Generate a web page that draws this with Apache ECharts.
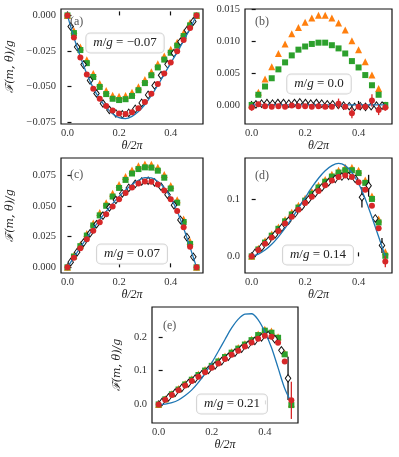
<!DOCTYPE html>
<html>
<head>
<meta charset="utf-8">
<script src="https://cdn.jsdelivr.net/npm/echarts@6/dist/echarts.min.js"></script>
<style>
html, body { margin: 0; padding: 0; background: #fff; }
#main { width: 399px; height: 457px; }
</style>
</head>
<body>
<div id="main"></div>
<script>
// theta/2pi grid for circles, squares, triangles and the exact curve
const thetaX = [0, 0.025, 0.05, 0.075, 0.1, 0.125, 0.15, 0.175, 0.2, 0.225, 0.25,
  0.275, 0.3, 0.325, 0.35, 0.375, 0.4, 0.425, 0.45, 0.475, 0.5]
// grid of the open diamonds
const thetaMid = [0.0125, 0.0375, 0.0625, 0.0875, 0.1125, 0.1375, 0.1625, 0.1875, 0.2125, 0.2375,
  0.2625, 0.2875, 0.3125, 0.3375, 0.3625, 0.3875, 0.4125, 0.4375, 0.4625, 0.4875]
const thetaMidB = [0.016, 0.037, 0.057, 0.078, 0.098, 0.119, 0.139, 0.16, 0.18, 0.201, 0.221, 0.242,
  0.262, 0.283, 0.303, 0.324, 0.344, 0.365, 0.385, 0.406, 0.426, 0.447, 0.467, 0.488]

const xTicks = [0, 0.2, 0.4]

// (a) m/g = -0.07
const blueA = [0, -0.0155, -0.029, -0.041, -0.051, -0.0585, -0.0645, -0.069, -0.0718, -0.0724, -0.0708,
  -0.0675, -0.0625, -0.0562, -0.049, -0.0412, -0.0335, -0.0258, -0.0178, -0.009, 0]
const redA = [0, -0.0155, -0.0295, -0.0415, -0.0515, -0.0585, -0.0635, -0.0668, -0.0688, -0.0692, -0.068,
  -0.0652, -0.0608, -0.055, -0.0482, -0.0408, -0.033, -0.0252, -0.0172, -0.0088, 0]
const greenA = [0, -0.0124, -0.0243, -0.0335, -0.0432, -0.0502, -0.0552, -0.0585, -0.0594, -0.0588, -0.0565,
  -0.0525, -0.0475, -0.042, -0.0365, -0.031, -0.0262, -0.0212, -0.0145, -0.007, 0]
const orangeA = [0, -0.0105, -0.0222, -0.0312, -0.0408, -0.0478, -0.0527, -0.056, -0.0568, -0.0562, -0.054,
  -0.05, -0.045, -0.0395, -0.034, -0.0285, -0.0238, -0.0188, -0.0122, -0.005, 0]
const diamA = [-0.0078, -0.0222, -0.0345, -0.0456, -0.0548, -0.0618, -0.0664, -0.0688, -0.0694, -0.0684,
  -0.0656, -0.0614, -0.0558, -0.0492, -0.042, -0.0343, -0.0265, -0.0185, -0.0104, -0.0042]
const yTicksA = [0, -0.025, -0.05, -0.075]

// (b) m/g = 0.0
const blueB = [0, 0, 0, 0, 0, 0, 0, 0, 0, 0, 0, 0, 0, 0, 0, 0, 0, 0, 0, 0, 0]
const redB = [-0.0004, 0.0001, -0.0002, -0.0003, -0.0002, -0.0003, -0.0001, -0.0002, -0.0002, -0.0003, -0.0002,
  -0.0003, -0.0003, 0.0002, -0.0003, -0.0013, -0.0003, -0.0003, 0.0007, -0.0008, -0.0004]
const redErrB = [0.0005, 0.0002, 0.0001, 0.0001, 0.0001, 0.0001, 0.0001, 0.0001, 0.0001, 0.0001, 0.0001,
  0.0002, 0.0002, 0.0008, 0.0002, 0.0008, 0.0002, 0.0002, 0.001, 0.0008, 0.0005]
const greenB = [0, 0.0016, 0.0029, 0.0042, 0.0056, 0.0067, 0.0078, 0.0087, 0.0092, 0.0096, 0.0098,
  0.0098, 0.0094, 0.0089, 0.0081, 0.0069, 0.0059, 0.0047, 0.0031, 0.0016, 0]
const orangeB = [0, 0.002, 0.0041, 0.006, 0.0081, 0.0096, 0.0112, 0.0122, 0.013, 0.0137, 0.0141,
  0.0141, 0.0137, 0.0129, 0.0118, 0.0101, 0.0087, 0.0068, 0.0047, 0.0026, 0]
const diamB = [0.0001, 0.0002, 0.0003, 0.0002, 0.0003, 0.0003, 0.0002, 0.0003, 0.0004, 0.0003, 0.0002, 0.0003,
  0.0002, 0.0001, 0.0001, 0, -0.0001, -0.0002, -0.0003, -0.0002, -0.0003, -0.0002, -0.0001, -0.0001]
const yTicksB = [0, 0.005, 0.01, 0.015]

// (c) m/g = 0.07
const blueC = [0, 0.0082, 0.0162, 0.024, 0.0315, 0.0386, 0.0454, 0.0518, 0.0576, 0.0628, 0.0672,
  0.0706, 0.0728, 0.0726, 0.0698, 0.0645, 0.0565, 0.0455, 0.0318, 0.0162, 0]
const redC = [0, 0.0078, 0.0155, 0.0228, 0.0298, 0.0366, 0.0432, 0.0495, 0.0552, 0.0604, 0.0648,
  0.0681, 0.0697, 0.0696, 0.0673, 0.0625, 0.0552, 0.0458, 0.0325, 0.0168, 0]
const greenC = [0, 0.0088, 0.0172, 0.0258, 0.034, 0.0422, 0.05, 0.0575, 0.0645, 0.071, 0.0762,
  0.0798, 0.0812, 0.081, 0.0785, 0.0728, 0.064, 0.0525, 0.0368, 0.019, 0]
const orangeC = [0, 0.0098, 0.0185, 0.0275, 0.036, 0.0445, 0.0525, 0.0602, 0.0672, 0.0738, 0.079,
  0.0826, 0.084, 0.0838, 0.0812, 0.0755, 0.0665, 0.0548, 0.0392, 0.0212, 0]
const diamC = [0.0042, 0.0123, 0.0201, 0.0277, 0.035, 0.042, 0.0486, 0.0547, 0.06, 0.0645,
  0.0678, 0.0697, 0.0703, 0.069, 0.0655, 0.059, 0.0505, 0.0385, 0.0245, 0.0085]
const yTicksC = [0, 0.025, 0.05, 0.075]

// (d) m/g = 0.14
const blueD = [0, 0.004, 0.011, 0.021, 0.034, 0.049, 0.066, 0.084, 0.102, 0.12, 0.136,
  0.149, 0.158, 0.162, 0.158, 0.146, 0.127, 0.1, 0.068, 0.034, 0]
const redD = [0, 0.011, 0.022, 0.033, 0.044, 0.057, 0.069, 0.081, 0.093, 0.104, 0.114,
  0.124, 0.132, 0.138, 0.141, 0.138, 0.129, 0.116, 0.088, 0.049, -0.009]
const redErrD = [0, 0, 0, 0, 0, 0, 0, 0, 0, 0, 0, 0, 0, 0, 0, 0, 0, 0, 0, 0.003, 0.01]
const greenD = [0, 0.012, 0.024, 0.036, 0.048, 0.061, 0.073, 0.085, 0.097, 0.109, 0.12,
  0.13, 0.139, 0.146, 0.15, 0.15, 0.145, 0.128, 0.1, 0.059, 0.001]
const orangeD = [0, 0.014, 0.027, 0.039, 0.051, 0.064, 0.077, 0.089, 0.101, 0.113, 0.124,
  0.134, 0.143, 0.15, 0.155, 0.155, 0.15, 0.133, 0.105, 0.065, 0.008]
const diamD = [0.006, 0.016, 0.027, 0.038, 0.05, 0.062, 0.075, 0.087, 0.099, 0.11,
  0.12, 0.129, 0.135, 0.139, 0.14, 0.135, 0.103, 0.123, 0.066, 0.019]
const diamErrD = [0, 0, 0, 0, 0, 0, 0, 0, 0, 0, 0, 0, 0, 0, 0, 0.004, 0.018, 0.019, 0.003, 0.013]
const yTicksD = [0, 0.1]

// (e) m/g = 0.21
const blueE = [0, 0.001, 0.005, 0.013, 0.026, 0.043, 0.065, 0.092, 0.123, 0.157, 0.192,
  0.226, 0.252, 0.267, 0.268, 0.25, 0.215, 0.168, 0.108, 0.047, 0.006]
const redE = [0, 0.014, 0.028, 0.042, 0.056, 0.069, 0.082, 0.095, 0.108, 0.121, 0.134,
  0.147, 0.159, 0.171, 0.183, 0.194, 0.203, 0.2, 0.182, 0.127, 0.012]
const redErrE = [0, 0, 0, 0, 0, 0, 0, 0, 0, 0, 0, 0, 0, 0, 0, 0, 0, 0, 0.003, 0.006, 0.055]
const greenE = [0, 0.015, 0.03, 0.044, 0.059, 0.073, 0.087, 0.1, 0.114, 0.127, 0.14,
  0.153, 0.165, 0.177, 0.19, 0.205, 0.218, 0.212, 0.197, 0.148, -0.002]
const orangeE = [0, 0.017, 0.032, 0.047, 0.062, 0.076, 0.09, 0.103, 0.117, 0.13, 0.143,
  0.156, 0.168, 0.18, 0.193, 0.208, 0.222, 0.217, 0.2, 0.152, 0.002]
const diamE = [0.007, 0.021, 0.035, 0.049, 0.063, 0.076, 0.089, 0.102, 0.115, 0.128,
  0.141, 0.153, 0.165, 0.177, 0.188, 0.198, 0.205, 0.193, 0.16, 0.077]
const diamErrE = [0, 0, 0, 0, 0, 0, 0, 0, 0, 0, 0, 0, 0, 0, 0, 0, 0, 0, 0.006, 0.064]
const yTicksE = [0, 0.1, 0.2]

const mgLabels = ['−0.07', '0.0', '0.07', '0.14', '0.21']

const BLUE = '#1f77b4'
const RED = '#d62728'
const GREEN = '#2ca02c'
const ORANGE = '#ff7f0e'
const SERIF = '"Liberation Serif", "DejaVu Serif", serif'

const panels = [
  { tag: '(a)', grid: { left: 61, top: 9, width: 142, height: 115 }, min: -0.0762, max: 0.0045, digits: 3,
    yTicks: yTicksA, nameGap: 45, blue: blueA, red: redA, green: greenA, orange: orangeA,
    dx: thetaMid, dy: diamA, tagPos: [70, 22], boxPos: [125, 43] },
  { tag: '(b)', grid: { left: 245, top: 9, width: 147, height: 115 }, min: -0.003, max: 0.0151, digits: 3,
    yTicks: yTicksB, nameGap: 0, blue: blueB, red: redB, redErr: redErrB, green: greenB, orange: orangeB,
    dx: thetaMidB, dy: diamB, tagPos: [255, 22], boxPos: [319, 84] },
  { tag: '(c)', grid: { left: 61, top: 158, width: 142, height: 115 }, min: -0.0046, max: 0.0888, digits: 3,
    yTicks: yTicksC, nameGap: 45, blue: blueC, red: redC, green: greenC, orange: orangeC,
    dx: thetaMid, dy: diamC, tagPos: [70, 175], boxPos: [132, 254] },
  { tag: '(d)', grid: { left: 245, top: 158, width: 147, height: 115 }, min: -0.029, max: 0.1713, digits: 1,
    yTicks: yTicksD, nameGap: 0, blue: blueD, red: redD, redErr: redErrD, green: greenD, orange: orangeD,
    dx: thetaMid, dy: diamD, dErr: diamErrD, tagPos: [255, 176], boxPos: [318, 255] },
  { tag: '(e)', grid: { left: 152, top: 307, width: 146, height: 116 }, min: -0.055, max: 0.288, digits: 1,
    yTicks: yTicksE, nameGap: 29, blue: blueE, red: redE, redErr: redErrE, green: greenE, orange: orangeE,
    dx: thetaMid, dy: diamE, dErr: diamErrE, tagPos: [163, 326], boxPos: [232, 404] }
]

const fmt = (v, d) => (v < -1e-9 ? '−' : '') + Math.abs(v).toFixed(d)
const pairs = (xs, ys) => xs.map((x, i) => [x, ys[i]])

function errorBars (idx, xs, ys, errs, color, z) {
  const data = xs.map((x, i) => [x, ys[i], errs[i]]).filter(d => d[2] > 0)
  return {
    type: 'custom',
    xAxisIndex: idx,
    yAxisIndex: idx,
    z: z,
    silent: true,
    clip: false,
    encode: { x: 0, y: 1 },
    data: data,
    renderItem: (params, api) => {
      const x = api.value(0)
      const y = api.value(1)
      const e = api.value(2)
      const p1 = api.coord([x, y - e])
      const p2 = api.coord([x, y + e])
      return {
        type: 'line',
        shape: { x1: p1[0], y1: p1[1], x2: p2[0], y2: p2[1] },
        style: { stroke: color, lineWidth: 1.3 }
      }
    }
  }
}

const grids = []
const xAxes = []
const yAxes = []
const series = []
const graphics = []

panels.forEach((p, i) => {
  grids.push(Object.assign({ show: true, borderColor: '#111', borderWidth: 1.2, backgroundColor: 'transparent' }, p.grid))
  xAxes.push({
    type: 'value', gridIndex: i, min: -0.025, max: 0.525,
    name: 'θ/2π', nameLocation: 'middle', nameGap: 13,
    nameTextStyle: { fontFamily: SERIF, fontStyle: 'italic', fontSize: 12, color: '#222' },
    axisLine: { show: false },
    axisTick: { show: true, inside: true, length: 4, customValues: xTicks, lineStyle: { color: '#111', width: 1.2 } },
    axisLabel: { margin: 4, fontFamily: SERIF, fontSize: 10.5, color: '#333', customValues: xTicks,
      formatter: v => fmt(v, 1) },
    splitLine: { show: false }
  })
  yAxes.push({
    type: 'value', gridIndex: i, min: p.min, max: p.max,
    name: p.nameGap ? 'ℱ(m, θ)/g' : '', nameLocation: 'middle', nameGap: p.nameGap,
    nameTextStyle: { fontFamily: '"DejaVu Serif", serif', fontStyle: 'italic', fontSize: 11, color: '#222' },
    axisLine: { show: false },
    axisTick: { show: true, inside: true, length: 4, customValues: p.yTicks, lineStyle: { color: '#111', width: 1.2 } },
    axisLabel: { margin: 5, fontFamily: SERIF, fontSize: 10.5, color: '#333', customValues: p.yTicks,
      formatter: v => fmt(v, p.digits) },
    splitLine: { show: false }
  })

  series.push({
    type: 'scatter', xAxisIndex: i, yAxisIndex: i, z: 2, symbol: 'triangle', symbolSize: 7,
    itemStyle: { color: ORANGE, opacity: 1 }, data: pairs(thetaX, p.orange)
  })
  series.push({
    type: 'scatter', xAxisIndex: i, yAxisIndex: i, z: 3, symbol: 'rect', symbolSize: 6,
    itemStyle: { color: GREEN, opacity: 1 }, data: pairs(thetaX, p.green)
  })
  if (p.dErr) series.push(errorBars(i, p.dx, p.dy, p.dErr, '#111', 4))
  series.push({
    type: 'scatter', xAxisIndex: i, yAxisIndex: i, z: 4, symbol: 'diamond', symbolSize: [5.5, 7.5],
    itemStyle: { color: '#fff', borderColor: '#111', borderWidth: 1, opacity: 1 }, data: pairs(p.dx, p.dy)
  })
  series.push({
    type: 'line', xAxisIndex: i, yAxisIndex: i, z: 5, smooth: 0.3, showSymbol: false,
    lineStyle: { color: BLUE, width: 1.3 }, data: pairs(thetaX, p.blue)
  })
  if (p.redErr) series.push(errorBars(i, thetaX, p.red, p.redErr, RED, 6))
  series.push({
    type: 'scatter', xAxisIndex: i, yAxisIndex: i, z: 6, symbol: 'circle', symbolSize: 6,
    itemStyle: { color: RED, opacity: 1 }, data: pairs(thetaX, p.red)
  })

  graphics.push({
    type: 'text', x: p.tagPos[0], y: p.tagPos[1], z: 100,
    style: { text: p.tag, font: '12px ' + SERIF, fill: '#555', align: 'left', verticalAlign: 'middle' }
  })
  graphics.push({
    type: 'text', x: p.boxPos[0], y: p.boxPos[1], z: 100,
    style: {
      text: '{i|m}/{i|g} = ' + mgLabels[i],
      font: '13px ' + SERIF, fill: '#222', align: 'center', verticalAlign: 'middle',
      backgroundColor: 'rgba(255,255,255,0.85)', borderColor: '#d4d4d4', borderWidth: 1, borderRadius: 4,
      padding: [3, 7],
      rich: { i: { fontFamily: SERIF, fontStyle: 'italic', fontSize: 13, fill: '#222' } }
    }
  })
})

const chart = echarts.init(document.getElementById('main'))
chart.setOption({
  animation: false,
  backgroundColor: '#fff',
  grid: grids,
  xAxis: xAxes,
  yAxis: yAxes,
  series: series,
  graphic: graphics
})
</script>
</body>
</html>
